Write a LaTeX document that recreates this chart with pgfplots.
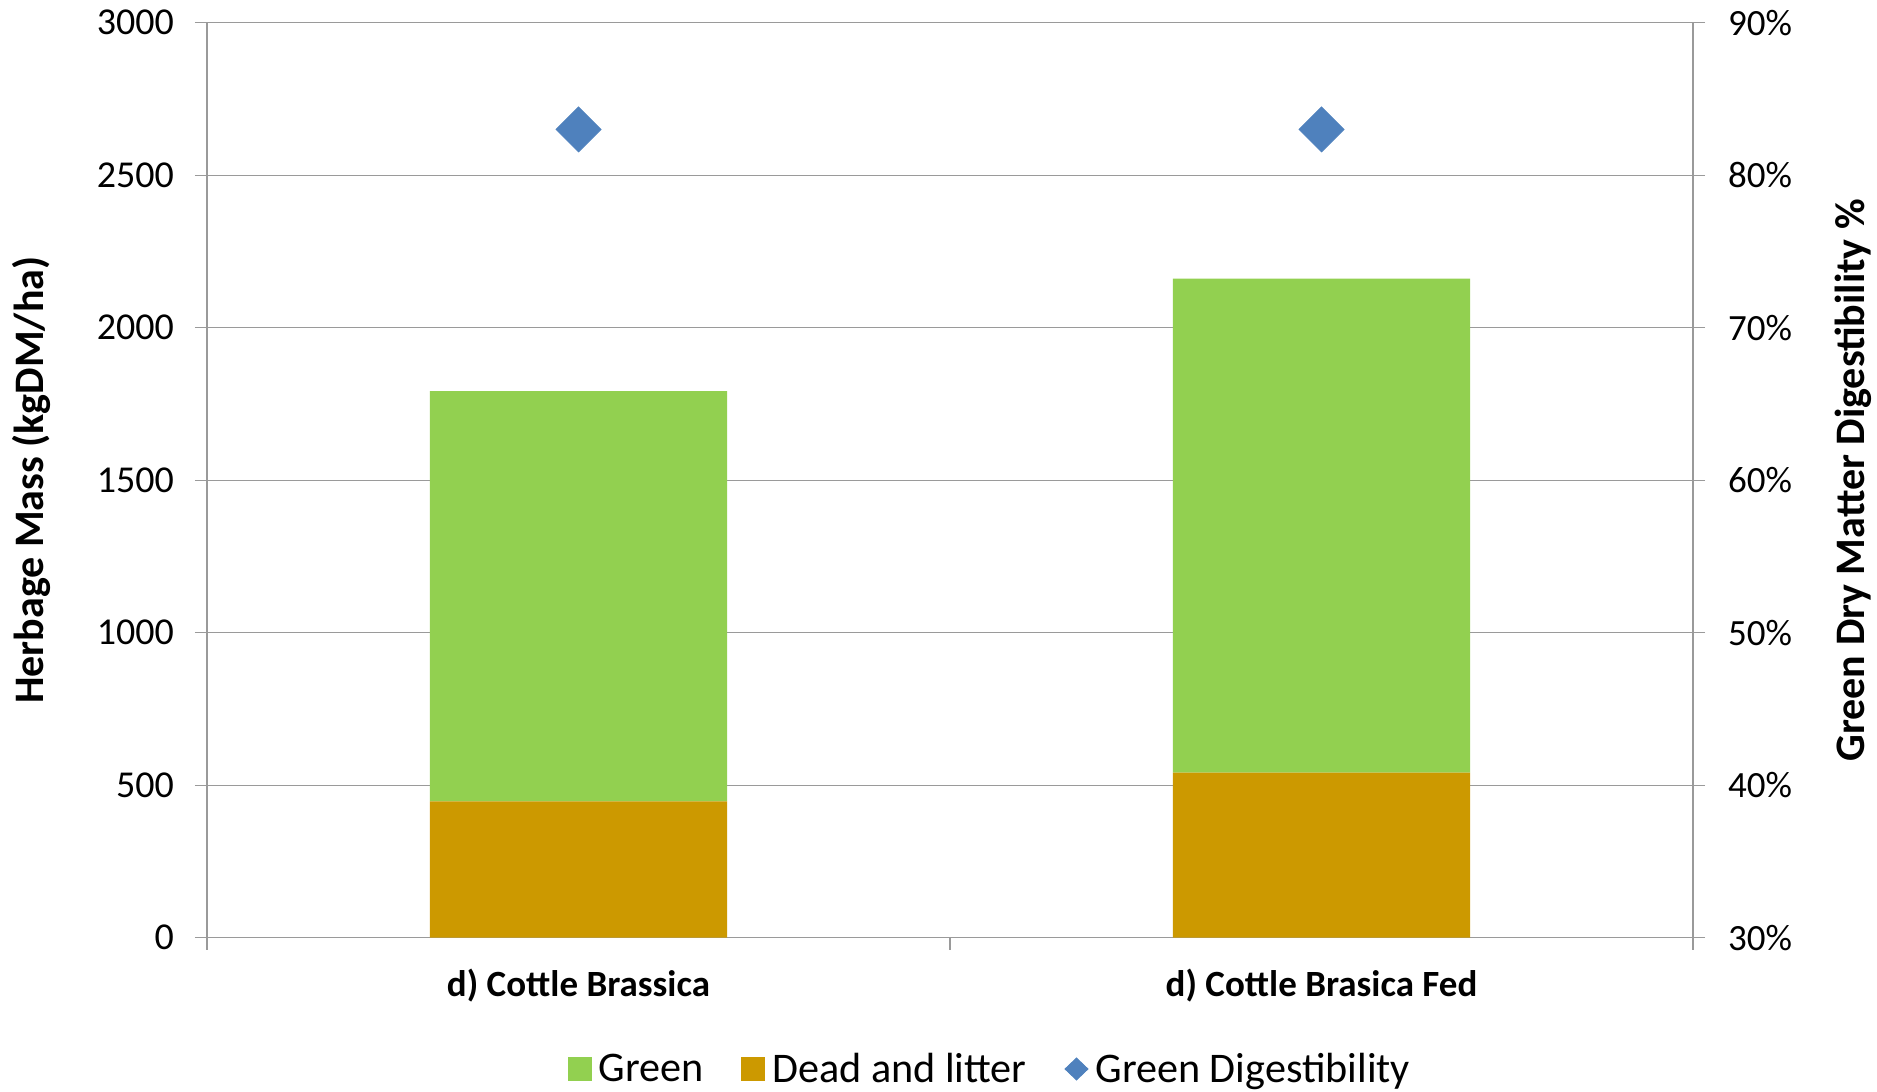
\documentclass[border=0pt]{standalone}
\usepackage{fontspec}
\setmainfont{Carlito}
\usepackage{pgfplots}
\pgfplotsset{compat=1.18}
\definecolor{cgreen}{HTML}{92D050}
\definecolor{cdead}{HTML}{CC9900}
\definecolor{cblue}{HTML}{4F81BD}
\definecolor{cgrid}{HTML}{9A9A9A}
\begin{document}
\begin{tikzpicture}
\begin{axis}[
  at={(0pt,0pt)}, anchor=south west,
  scale only axis, width=743pt, height=457.5pt,
  xmin=0.5, xmax=2.5, ymin=0, ymax=3000,
  ybar stacked, bar width=0.4,
  xtick={0.5,1.5,2.5}, xticklabels={},
  extra x ticks={1,2},
  extra x tick labels={d) Cottle Brassica, d) Cottle Brasica Fed},
  extra x tick style={major tick length=0pt, grid=none,
     xticklabel style={font=\bfseries\fontsize{18.5}{21}\selectfont, anchor=center, yshift=-24pt}},
  ytick={0,500,...,3000},
  ymajorgrids, grid style={cgrid, line width=0.6pt},
  tick align=outside, major tick length=6pt,
  axis line style={cgrid, line width=0.6pt},
  tick style={cgrid, line width=0.6pt},
  axis x line*=bottom, axis y line*=left,
  scaled y ticks=false,
  yticklabel style={font=\fontsize{19}{22}\selectfont, xshift=-7pt, /pgf/number format/.cd, 1000 sep={}, assume math mode=true},
  ylabel={Herbage Mass (kgDM/ha)},
  ylabel style={font=\bfseries\fontsize{21}{24}\selectfont, at={(axis description cs:-0.1184,0.5)}, anchor=center, rotate=0},
]
\addplot[fill=cdead, draw=none] coordinates {(1,447) (2,541)};
\addplot[fill=cgreen, draw=none] coordinates {(1,1345) (2,1620)};
\end{axis}
\begin{axis}[
  at={(0pt,0pt)}, anchor=south west,
  scale only axis, width=743pt, height=457.5pt,
  xmin=0.5, xmax=2.5, ymin=30, ymax=90,
  axis y line*=right, axis x line=none,
  ytick={30,40,...,90},
  yticklabel={\pgfmathprintnumber[assume math mode=true]{\tick}\%},
  yticklabel style={font=\fontsize{18.5}{22}\selectfont, xshift=8pt},
  tick align=outside, major tick length=6pt,
  axis line style={cgrid, line width=0.6pt},
  tick style={cgrid, line width=0.6pt},
  ylabel={Green Dry Matter Digestibility \%},
  ylabel style={font=\bfseries\fontsize{21}{24}\selectfont, at={(axis description cs:1.108,0.5)}, anchor=center, rotate=0},
  legend columns=-1,
  legend style={at={(axis description cs:0.5285,-0.1435)}, anchor=center, draw=none, fill=none,
     font=\fontsize{21.1}{24}\selectfont, nodes={inner sep=3.5pt},
     /tikz/every even column/.append style={column sep=15.5pt}},
]
\addlegendimage{legend image code/.code={\fill[cgreen] (0pt,-5.75pt) rectangle (11.5pt,5.75pt);}}
\addlegendentry{Green}
\addlegendimage{legend image code/.code={\fill[cdead] (0pt,-5.75pt) rectangle (11.5pt,5.75pt);}}
\addlegendentry{Dead and litter}
\addplot[only marks, mark=square*, mark size=7.95pt, mark options={rotate=45, fill=cblue, draw=cblue},
  legend image code/.code={\fill[cblue] (0pt,0pt) -- (5.75pt,-5.5pt) -- (11.5pt,0pt) -- (5.75pt,5.5pt) -- cycle;}]
  coordinates {(1,83) (2,83)};
\addlegendentry{Green Digestibility}
\end{axis}
\pgfresetboundingbox
\path[use as bounding box] (-103.5pt,-76.65pt) rectangle (835pt,468.85pt);
\end{tikzpicture}
\end{document}
